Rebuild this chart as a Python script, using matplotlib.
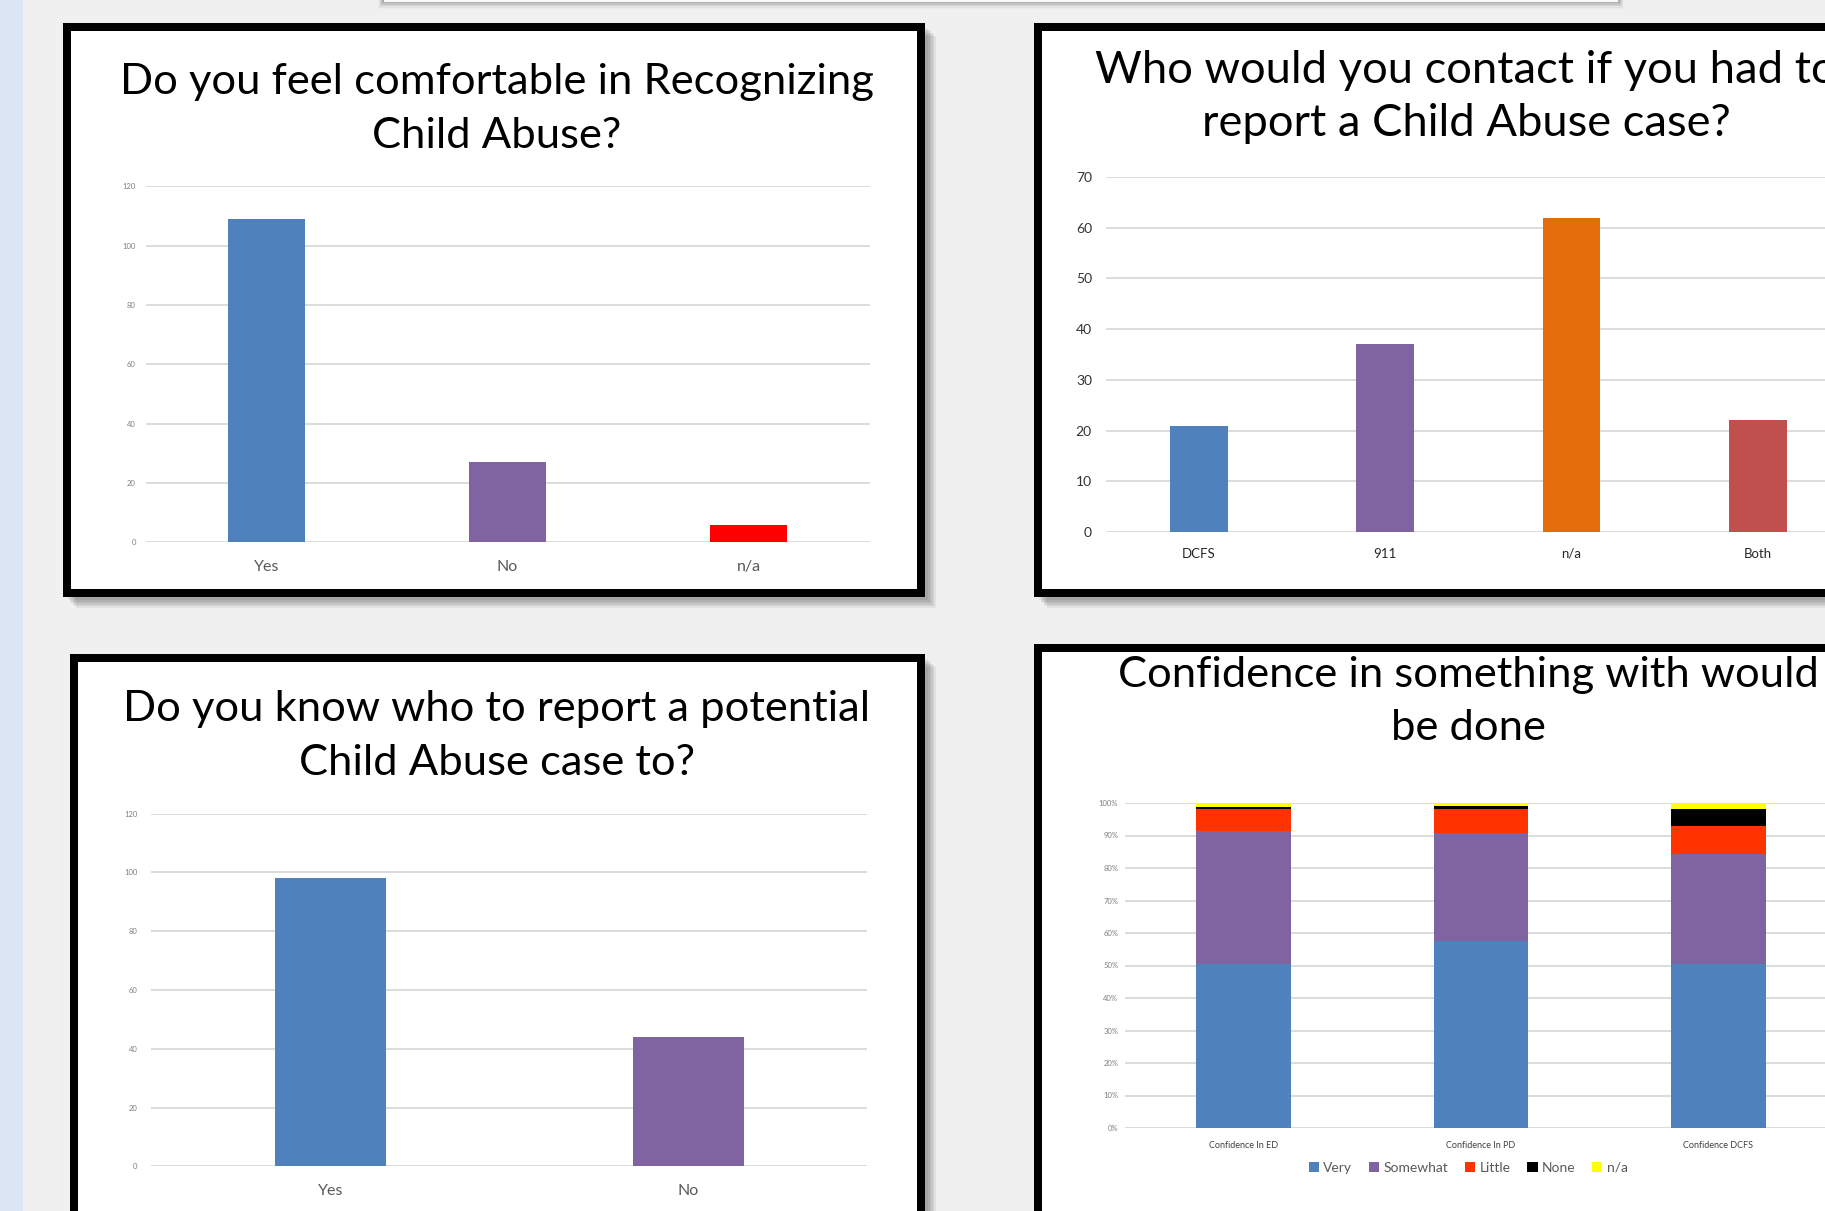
import matplotlib
matplotlib.use("Agg")
import matplotlib.pyplot as plt
from matplotlib.patches import Rectangle
import numpy as np

W, H = 1825, 1211
DPI = 100

# ---------------- data ----------------
recog_cats = ["Yes", "No", "n/a"]
recog_vals = [109, 27, 6]
recog_colors = ["#4f81bd", "#8064a2", "#ff0000"]

contact_cats = ["DCFS", "911", "n/a", "Both"]
contact_vals = [21, 37, 62, 22]
contact_colors = ["#4f81bd", "#8064a2", "#e46c0a", "#c0504d"]

know_cats = ["Yes", "No"]
know_vals = [98, 44]
know_colors = ["#4f81bd", "#8064a2"]

conf_cats = ["Confidence In ED", "Confidence In PD", "Confidence DCFS"]
conf_series = ["Very", "Somewhat", "Little", "None", "n/a"]
conf_very = [50.5, 57.5, 50.4]
conf_somewhat = [41.0, 33.3, 33.8]
conf_little = [6.7, 7.3, 8.6]
conf_none = [0.5, 1.0, 5.3]
conf_na = [1.3, 0.9, 1.9]
conf_colors = ["#4f81bd", "#8064a2", "#ff3300", "#000000", "#ffff00"]

titles = [
    ["Do you feel comfortable in Recognizing", "Child Abuse?"],
    ["Who would you contact if you had to", "report a Child Abuse case?"],
    ["Do you know who to report a potential", "Child Abuse case to?"],
    ["Confidence in something with would", "be done"],
]

# ---------------- figure ----------------
plt.rcParams['font.family'] = ['Lato', 'DejaVu Sans']
fig = plt.figure(figsize=(W / DPI, H / DPI), dpi=DPI, facecolor="#f0f0f0")


def rect_px(l, t, r, b, **kw):
    p = Rectangle((l / W, 1 - b / H), (r - l) / W, (b - t) / H,
                  transform=fig.transFigure, **kw)
    fig.add_artist(p)
    return p


def add_ax(l, t, r, b):
    ax = fig.add_axes([l / W, 1 - b / H, (r - l) / W, (b - t) / H])
    ax.set_facecolor("none")
    ax.set_zorder(5)
    for s in ax.spines.values():
        s.set_visible(False)
    ax.tick_params(length=0)
    ax.yaxis.grid(True, color="#d9d9d9", lw=1.3)
    ax.set_axisbelow(True)
    return ax


# left blue strip
rect_px(0, 0, 23, H, facecolor="#dce6f4", edgecolor="none", zorder=-10)

# top bar with shadow
for i, a in enumerate([0.10, 0.08, 0.06, 0.04, 0.02]):
    rect_px(382 - i, 0, 1620 + i, 3 + i * 1.5, facecolor="black", alpha=a,
            edgecolor="none", zorder=-9)
rect_px(384, -5, 1618, 2, facecolor="#fafafa", edgecolor="none", zorder=-8)


def panel(l, t, r, b):
    # shadow
    for i in range(6):
        off = 3 + i * 1.6
        rect_px(l + off + 2, t + off + 2, r + off, b + off, facecolor="black",
                alpha=0.06, edgecolor="none", zorder=-7)
    # white body + black border (8 px)
    rect_px(l + 4, t + 4, r - 4, b - 4, facecolor="white", edgecolor="black",
            linewidth=8 * 72 / DPI, zorder=-6, joinstyle="miter")


panel(63, 23, 925, 597)
panel(1034, 23, 1896, 597)
panel(70, 654, 925, 1260)
panel(1034, 644, 1896, 1260)

# titles
title_sizes = [31.3, 32.6, 31.3, 31.3]
title_pos = [(497, 94, 148), (1466, 83, 136), (497, 721, 775), (1468, 687, 740)]
for (cx, y1, y2), lines, fs in zip(title_pos, titles, title_sizes):
    kw = dict(fontsize=fs, color="#000000", ha="center", va="baseline")
    fig.text(cx / W, 1 - y1 / H, lines[0], **kw)
    fig.text(cx / W, 1 - y2 / H, lines[1], **kw)

# ---------- panel 1 ----------
ax1 = add_ax(145.5, 186.2, 869.5, 542.4)
x1 = np.arange(len(recog_cats))
ax1.bar(x1, recog_vals, width=0.32, color=recog_colors, zorder=3)
ax1.set_xlim(-0.5, len(recog_cats) - 0.5)
ax1.set_ylim(0, 120)
ax1.set_yticks(np.arange(0, 121, 20))
ax1.set_xticks(x1)
ax1.set_xticklabels(recog_cats, fontsize=11.5, color="#595959")
ax1.tick_params(axis="y", labelsize=5.5, labelcolor="#7f7f7f", pad=7)
ax1.tick_params(axis="x", pad=13)

# ---------- panel 2 ----------
ax2 = add_ax(1105.8, 177, 1851, 532)
x2 = np.arange(len(contact_cats))
ax2.bar(x2, contact_vals, width=0.31, color=contact_colors, zorder=3)
ax2.set_xlim(-0.5, len(contact_cats) - 0.5)
ax2.set_ylim(0, 70)
ax2.set_yticks(np.arange(0, 71, 10))
ax2.set_xticks(x2)
ax2.set_xticklabels(contact_cats, fontsize=9.5, color="#262626")
ax2.tick_params(axis="y", labelsize=10, labelcolor="#333333", pad=10)
ax2.tick_params(axis="x", pad=11.5)

# ---------- panel 3 ----------
ax3 = add_ax(151.3, 813.6, 867.2, 1166.3)
x3 = np.arange(len(know_cats))
ax3.bar(x3, know_vals, width=0.31, color=know_colors, zorder=3)
ax3.set_xlim(-0.5, len(know_cats) - 0.5)
ax3.set_ylim(0, 120)
ax3.set_yticks(np.arange(0, 121, 20))
ax3.set_xticks(x3)
ax3.set_xticklabels(know_cats, fontsize=11.5, color="#595959")
ax3.tick_params(axis="y", labelsize=5.5, labelcolor="#7f7f7f", pad=10)
ax3.tick_params(axis="x", pad=12.5)

# ---------- panel 4 ----------
ax4 = add_ax(1125, 803, 1837, 1128)
x4 = np.arange(len(conf_cats))
stack = [conf_very, conf_somewhat, conf_little, conf_none, conf_na]
bottom = np.zeros(len(conf_cats))
handles = []
for name, vals, col in zip(conf_series, stack, conf_colors):
    h = ax4.bar(x4, vals, bottom=bottom, width=0.4, color=col, label=name, zorder=3)
    handles.append(h)
    bottom += np.array(vals)
ax4.set_xlim(-0.5, len(conf_cats) - 0.5)
ax4.set_ylim(0, 100)
ax4.set_yticks(np.arange(0, 101, 10))
ax4.set_yticklabels([f"{v}%" for v in range(0, 101, 10)])
ax4.set_xticks(x4)
ax4.set_xticklabels(conf_cats, fontsize=6.5, color="#404040")
ax4.tick_params(axis="y", labelsize=5.5, labelcolor="#7f7f7f", pad=5)
ax4.tick_params(axis="x", pad=9)
leg = fig.legend(handles=handles, labels=conf_series, loc="center",
                 bbox_to_anchor=(1468 / W, 1 - 1168 / H), ncol=5, frameon=False,
                 fontsize=10, handlelength=0.75, handleheight=0.75,
                 handletextpad=0.3, columnspacing=1.2, labelcolor="#595959")

fig.savefig("out.png", dpi=DPI, facecolor=fig.get_facecolor())
